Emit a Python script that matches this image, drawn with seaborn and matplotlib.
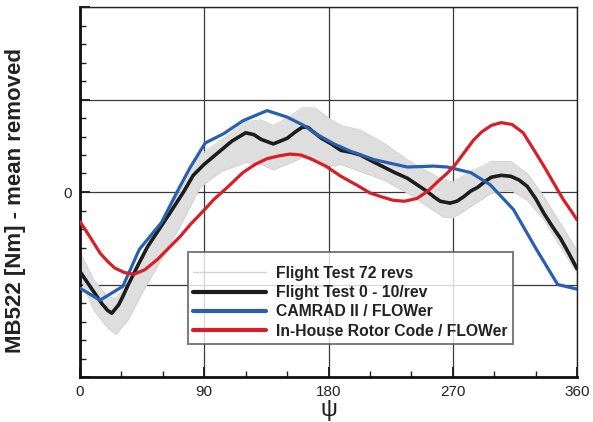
import numpy as np
import pandas as pd
import matplotlib
matplotlib.use("Agg")
import matplotlib.pyplot as plt
from matplotlib.ticker import MultipleLocator, FixedLocator, NullFormatter
from matplotlib.lines import Line2D
import seaborn as sns

# Flight test scatter band (72 revs): lower / upper edges of the bundle
band_psi = [0, 10, 20, 26, 35, 45, 60, 75, 87, 102, 120, 131, 140, 150, 161, 170,
            182, 189, 203, 220, 237, 252, 263, 270, 283, 298, 312, 324, 336, 348, 360]
band_upper = [-0.65, -0.95, -1.13, -1.15, -0.98, -0.68, -0.30, 0.07, 0.40, 0.56, 0.76,
              0.78, 0.72, 0.80, 0.91, 0.91, 0.78, 0.72, 0.67, 0.53, 0.35, 0.22, 0.13,
              0.11, 0.22, 0.33, 0.33, 0.20, -0.05, -0.34, -0.63]
band_lower = [-0.92, -1.28, -1.47, -1.54, -1.38, -1.09, -0.70, -0.30, 0.05, 0.22, 0.32,
              0.30, 0.24, 0.30, 0.37, 0.33, 0.28, 0.30, 0.22, 0.13, -0.01, -0.16, -0.27,
              -0.28, -0.16, -0.01, 0.02, -0.09, -0.30, -0.59, -0.88]

# Flight test, harmonics 0 - 10/rev
ft_psi = [0, 5, 10, 16, 20, 23, 28, 31, 35, 42, 49, 57, 65, 75, 82, 90, 102, 110, 120,
          126, 131, 140, 150, 156, 161, 165, 169, 175, 182, 189, 196, 203, 212, 220, 228,
          237, 245, 252, 257, 261, 268, 273, 278, 283, 288, 293, 298, 305, 312, 318, 324,
          330, 336, 342, 348, 354, 360]
ft_val = [-0.86, -0.97, -1.08, -1.21, -1.28, -1.31, -1.22, -1.13, -1.00, -0.79, -0.59,
          -0.41, -0.23, 0.00, 0.18, 0.30, 0.45, 0.55, 0.64, 0.62, 0.57, 0.52, 0.58, 0.65,
          0.70, 0.70, 0.65, 0.58, 0.52, 0.45, 0.43, 0.40, 0.33, 0.27, 0.21, 0.15, 0.07,
          0.00, -0.06, -0.10, -0.12, -0.10, -0.05, 0.01, 0.05, 0.11, 0.16, 0.18, 0.17,
          0.13, 0.06, -0.07, -0.23, -0.37, -0.50, -0.66, -0.83]

# CAMRAD II / FLOWer
cam_psi = [0, 14.5, 31, 43, 59, 71, 80, 90.7, 104, 118, 135.5, 150, 162, 172, 184, 196,
           213, 237, 256, 266, 283, 297, 314, 331, 346, 360]
cam_val = [-1.04, -1.17, -1.02, -0.62, -0.33, 0.02, 0.27, 0.53, 0.63, 0.77, 0.88, 0.81,
           0.72, 0.62, 0.52, 0.44, 0.35, 0.27, 0.28, 0.27, 0.21, 0.08, -0.19, -0.63,
           -1.00, -1.05]

# In-house rotor code / FLOWer
ihr_psi = [0, 7, 14.5, 20, 25, 32, 39, 47, 56, 64, 72.6, 80, 89, 97, 106, 118, 127,
           135.5, 144, 152, 160, 167, 178, 189, 201, 210, 218, 227, 235, 244, 252, 259,
           265, 271, 279, 285, 291, 298, 305, 313, 321, 329, 336, 343, 350, 356, 360]
ihr_val = [-0.32, -0.48, -0.66, -0.75, -0.82, -0.87, -0.89, -0.84, -0.73, -0.61, -0.48,
           -0.35, -0.21, -0.08, 0.04, 0.21, 0.30, 0.36, 0.39, 0.41, 0.40, 0.36, 0.28,
           0.17, 0.07, -0.01, -0.05, -0.09, -0.10, -0.07, 0.01, 0.11, 0.19, 0.28, 0.44,
           0.56, 0.65, 0.72, 0.75, 0.73, 0.64, 0.45, 0.28, 0.10, -0.08, -0.21, -0.30]

labels = ["Flight Test 72 revs", "Flight Test 0 - 10/rev",
          "CAMRAD II / FLOWer", "In-House Rotor Code / FLOWer"]
x_ticks = [0, 90, 180, 270, 360]

sns.set_theme(style="white")
plt.rcParams["font.family"] = ["Liberation Sans", "DejaVu Sans"]

fig = plt.figure(figsize=(5.93, 4.22), dpi=100)
ax = fig.add_axes([80 / 593, 45 / 422, 497 / 593, 370 / 422])

band_col = "#d3d3d3"
ax.fill_between(band_psi, band_lower, band_upper, color="#dedede", lw=0, zorder=2)
for edge in (band_lower, band_upper):
    sns.lineplot(x=band_psi, y=edge, ax=ax, color=band_col, lw=0.7, zorder=2)

ft = pd.DataFrame({"psi": ft_psi, "val": ft_val})
cam = pd.DataFrame({"psi": cam_psi, "val": cam_val})
ihr = pd.DataFrame({"psi": ihr_psi, "val": ihr_val})
sns.lineplot(data=ft, x="psi", y="val", ax=ax, color="#1c1c1c", lw=2.6, zorder=4)
sns.lineplot(data=cam, x="psi", y="val", ax=ax, color="#2a5fb0", lw=2.3, zorder=5)
sns.lineplot(data=ihr, x="psi", y="val", ax=ax, color="#d62028", lw=2.3, zorder=6)

ax.set_xlim(0, 360)
ax.set_ylim(-2, 2)
ax.xaxis.set_major_locator(FixedLocator(x_ticks))
ax.set_xticklabels([str(t) for t in x_ticks])
ax.xaxis.set_minor_locator(MultipleLocator(30))
ax.yaxis.set_minor_locator(MultipleLocator(0.2))
ax.set_yticks([-2, -1, 0, 1, 2])
ax.set_yticklabels(["", "", "0", "", ""])
ax.yaxis.set_minor_formatter(NullFormatter())

ax.grid(True, which="major", color="#3a3a3a", lw=0.9, zorder=1)
ax.set_axisbelow(True)
ax.tick_params(axis="both", which="both", direction="in", left=True, bottom=True,
               top=False, right=False, labelsize=11, colors="#222222", pad=6)
ax.tick_params(axis="both", which="major", length=7, width=1.4)
ax.tick_params(axis="both", which="minor", length=4, width=1.0)

for side in ("left", "bottom"):
    ax.spines[side].set_linewidth(2.0)
    ax.spines[side].set_color("#111111")
for side in ("top", "right"):
    ax.spines[side].set_linewidth(1.0)
    ax.spines[side].set_color("#222222")

ax.set_xlabel("ψ", fontsize=17, labelpad=0, color="#222222")
ax.set_ylabel("MB522 [Nm] - mean removed", fontsize=16, fontweight="bold",
              color="#222222")
ax.yaxis.set_label_coords(-0.108, 0.478)

handles = [
    Line2D([], [], color=band_col, lw=0.9),
    Line2D([], [], color="#1c1c1c", lw=3.0),
    Line2D([], [], color="#2a5fb0", lw=3.0),
    Line2D([], [], color="#d62028", lw=3.0),
]
leg = ax.legend(handles, labels, loc="lower left", bbox_to_anchor=(0.217, 0.089),
                borderaxespad=0, frameon=True, fancybox=False, handlelength=4.65,
                handletextpad=0.64, labelspacing=0.27, borderpad=0.35,
                title=" ", title_fontsize=2,
                prop={"weight": "bold", "size": 11.3})
leg.get_frame().set_edgecolor("#5a5a5a")
leg.get_frame().set_linewidth(1.4)
leg.set_zorder(10)
for t in leg.get_texts():
    t.set_color("#222222")

fig.savefig("out.png", dpi=100)
